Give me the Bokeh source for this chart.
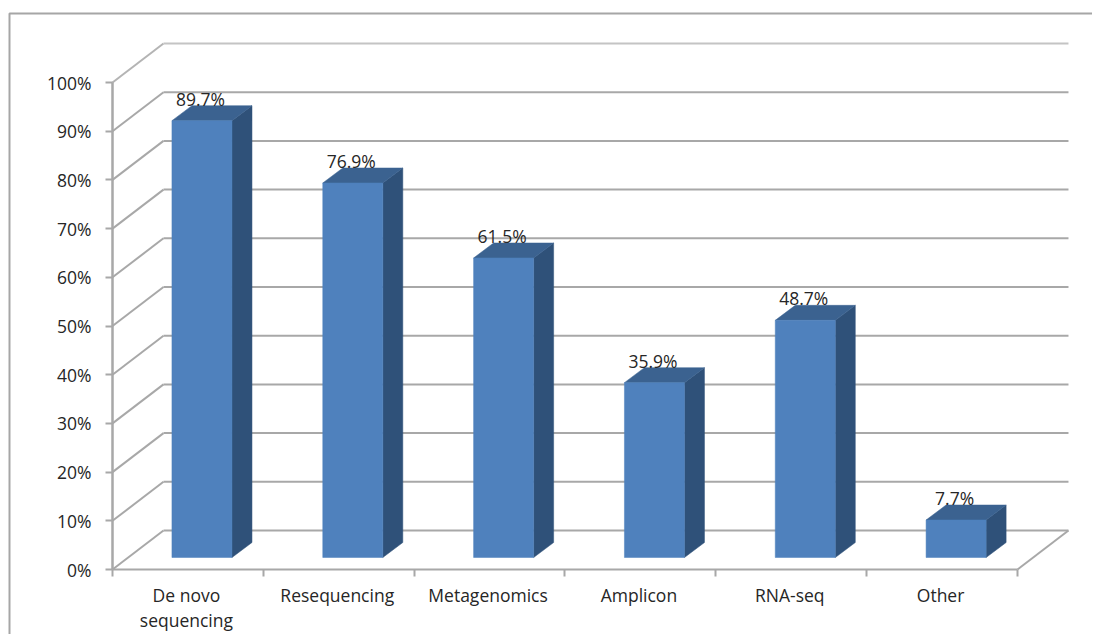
from bokeh.embed import file_html
from bokeh.resources import INLINE
from bokeh.plotting import figure
from bokeh.models import Range1d, FixedTicker, LinearAxis
from bokeh.core.properties import value

categories = ["De novo\nsequencing", "Resequencing", "Metagenomics", "Amplicon", "RNA-seq", "Other"]
shares = [89.7, 76.9, 61.5, 35.9, 48.7, 7.7]
y_ticks = [0, 10, 20, 30, 40, 50, 60, 70, 80, 90, 100]

FONT = "Open Sans"
TEXT = "#262626"
GRID = "#a8a8a8"
SIZE = "17.5px"
W, H = 1092, 634
XU, YU = 150.83, 4.87        # pixels per category, pixels per percent
OX, OY = 112, 569            # origin inside the figure
DX, DY = 51 / XU, 39 / YU    # wall depth
NX, NY = 16 / XU, 12 / YU    # bar front offset from front plane
BX, BY = 20 / XU, 15 / YU    # bar depth
LEFT, BW = 0.288, 0.398
n = len(categories)

p = figure(width=W, height=H, output_backend="svg", toolbar_location=None,
           x_range=Range1d(-OX / XU, (W - OX) / XU),
           y_range=Range1d(-(H - OY) / YU, OY / YU),
           x_axis_type=None, y_axis_type=None, min_border=0)
p.min_border_left = p.min_border_right = p.min_border_top = p.min_border_bottom = 0
p.outline_line_color = None
p.grid.visible = False

# outer chart border, running off the page at right and bottom
px_x = lambda v: (v - OX) / XU
px_y = lambda v: (OY - v) / YU
p.line([px_x(W + 5), px_x(9), px_x(9)], [px_y(13), px_y(13), px_y(H + 5)],
       line_color="#a6a6a6", line_width=2)

# walls and floor
for t in y_ticks:
    p.line([0, DX], [t, t + DY], line_color=GRID if t < 100 else "#b4b4b4", line_width=2)
    p.line([DX, n + DX], [t + DY, t + DY], line_color=GRID if t < 100 else "#c4c4c4", line_width=2)
p.line([n, n + DX], [0, DY], line_color=GRID, line_width=2)
p.line([0, 0], [0, 100], line_color=GRID, line_width=2)

# bars
front_x, front_y, top_x, top_y, side_x, side_y = [], [], [], [], [], []
for i, v in enumerate(shares):
    x0 = i + LEFT + NX
    x1 = x0 + BW
    y0 = NY
    y1 = NY + v
    front_x.append([x0, x1, x1, x0]); front_y.append([y0, y0, y1, y1])
    top_x.append([x0, x1, x1 + BX, x0 + BX]); top_y.append([y1, y1, y1 + BY, y1 + BY])
    side_x.append([x1, x1 + BX, x1 + BX, x1]); side_y.append([y0, y0 + BY, y1 + BY, y1])
p.patches(side_x, side_y, fill_color="#2f5179", line_color="#2f5179", line_width=0.5)
p.patches(top_x, top_y, fill_color="#3b6290", line_color="#3b6290", line_width=0.5)
p.patches(front_x, front_y, fill_color="#4f81bd", line_color="#4f81bd", line_width=0.5)

# value labels
p.text([i + LEFT + NX + BW / 2 - 0.01 for i in range(n)],
       [NY + v + 22 / YU for v in shares],
       text=[f"{v}%" for v in shares],
       text_font=value(FONT), text_font_size=SIZE, text_color=TEXT,
       text_align="center", text_baseline="middle")

# value axis
ya = LinearAxis(fixed_location=0, ticker=FixedTicker(ticks=y_ticks), bounds=(0, 100),
                major_label_overrides={t: f"{t}%" for t in y_ticks})
ya.axis_line_color = GRID
ya.axis_line_width = 2
ya.major_tick_line_color = GRID
ya.major_tick_line_width = 2
ya.major_tick_out = 7
ya.major_tick_in = 0
ya.minor_tick_line_color = None
ya.major_label_standoff = 14
ya.major_label_text_font = FONT
ya.major_label_text_font_size = SIZE
ya.major_label_text_color = TEXT
p.add_layout(ya, "left")

# category axis: tick marks on boundaries
xa = LinearAxis(fixed_location=0, ticker=FixedTicker(ticks=list(range(n + 1))), bounds=(0, n),
                major_label_overrides={i: "" for i in range(n + 1)})
xa.axis_line_color = GRID
xa.axis_line_width = 2
xa.major_tick_line_color = GRID
xa.major_tick_line_width = 2
xa.major_tick_out = 7
xa.major_tick_in = 0
xa.minor_tick_line_color = None
p.add_layout(xa, "below")

# category labels centred in each category, tighter line spacing than an axis gives
p.text([i + 0.5 - 1.5 / XU for i in range(n)], [-13 / YU] * n, text=categories,
       text_font=value(FONT), text_font_size=SIZE, text_color=TEXT,
       text_align="center", text_baseline="top", text_line_height=1.05)

open("out.html", "w").write(file_html(p, INLINE))
